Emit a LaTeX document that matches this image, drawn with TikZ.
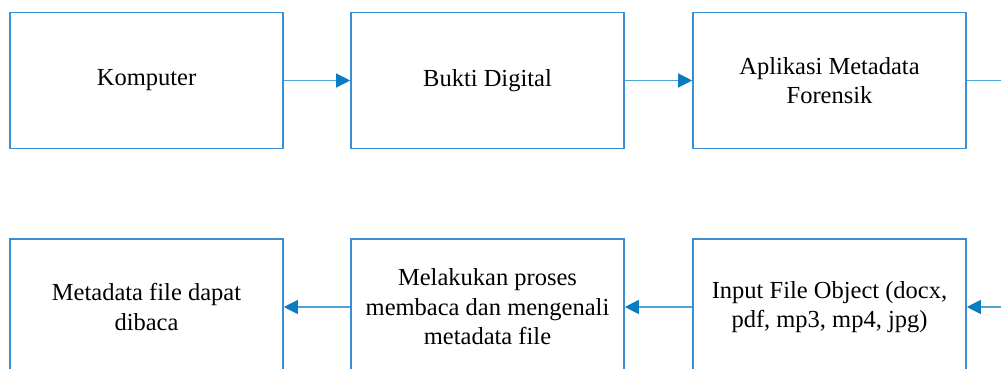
\documentclass[tikz,border=0pt]{standalone}
\usepackage{fontspec}
\setmainfont{Liberation Serif}
\usetikzlibrary{arrows.meta}
\definecolor{boxblue}{HTML}{3A8FD4}
\definecolor{linkblue}{HTML}{4AA6DA}
\definecolor{tipblue}{HTML}{0A7DC0}
\begin{document}
\begin{tikzpicture}[x=1pt,y=-1pt,
  stepbox/.style={draw=boxblue, line width=1.6pt, minimum width=273pt,
    minimum height=136pt, align=center, inner sep=0pt,
    font=\fontsize{24.5}{29.5}\selectfont},
  link/.style={draw=linkblue, line width=1.2pt,
    -{Triangle[length=14pt,width=14pt,color=tipblue]}},
  plain/.style={draw=linkblue, line width=1.2pt}]
\useasboundingbox (0,0) rectangle (1001,369);
\clip (0,0) rectangle (1001,369);

% top row
\node[stepbox] (komputer) at (146.5,80.5) {Komputer};
\node[stepbox] (bukti) at (487.5,80.5) {Bukti Digital};
\node[stepbox] (aplikasi) at (829.5,80.5) {Aplikasi Metadata\\Forensik};

% bottom row
\node[stepbox] (hasil) at (146.5,307) {Metadata file dapat\\dibaca};
\node[stepbox] (proses) at (487.5,307) {Melakukan proses\\membaca dan mengenali\\metadata file};
\node[stepbox] (input) at (829.5,307) {Input File Object (docx,\\pdf, mp3, mp4, jpg)};

% connection leaving on the right side and coming back
\coordinate (outT) at (1012,80.5);
\coordinate (inB) at (1012,307);

\draw[link] (komputer) -- (bukti);
\draw[link] (bukti) -- (aplikasi);
\draw[plain] (aplikasi) -- (outT);
\draw[link] (inB) -- (input);
\draw[link] (input) -- (proses);
\draw[link] (proses) -- (hasil);
\end{tikzpicture}
\end{document}
